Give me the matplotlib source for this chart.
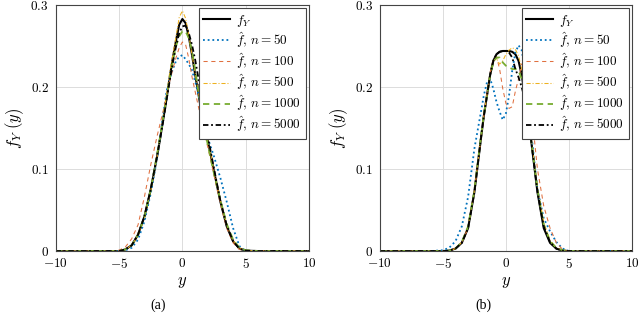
import numpy as np
import matplotlib
matplotlib.use('Agg')
import matplotlib.pyplot as plt
from matplotlib.ticker import FuncFormatter

plt.rcParams['mathtext.fontset'] = 'cm'
plt.rcParams['font.family'] = 'serif'
plt.rcParams['font.serif'] = ['DejaVu Serif']

# common y grid (x axis of the densities)
yy = [-10, -6, -5, -4.5, -4, -3.5, -3, -2.5, -2, -1.75, -1.5, -1.25, -1, -0.75, -0.5, -0.25,
      0, 0.25, 0.5, 0.75, 1, 1.25, 1.5, 1.75, 2, 2.5, 3, 3.5, 4, 4.5, 5, 6, 10]

#%% panel (a)
fY_a = [0, 0, 0, 0.002, 0.007, 0.02, 0.042, 0.075, 0.115, 0.138, 0.162, 0.186, 0.212, 0.236, 0.257, 0.276,
        0.283, 0.278, 0.262, 0.24, 0.216, 0.193, 0.17, 0.152, 0.135, 0.097, 0.06, 0.03, 0.012, 0.003, 0.0005, 0, 0]
n50_a = [0, 0, 0, 0.001, 0.004, 0.014, 0.036, 0.07, 0.113, 0.14, 0.168, 0.195, 0.21, 0.222, 0.232, 0.237,
         0.239, 0.234, 0.228, 0.221, 0.207, 0.192, 0.175, 0.155, 0.138, 0.115, 0.089, 0.06, 0.028, 0.006, 0, 0, 0]
n100_a = [0, 0, 0.001, 0.005, 0.015, 0.032, 0.066, 0.105, 0.14, 0.156, 0.172, 0.19, 0.207, 0.222, 0.236, 0.248,
          0.255, 0.252, 0.235, 0.213, 0.195, 0.177, 0.16, 0.143, 0.127, 0.092, 0.057, 0.028, 0.01, 0.002, 0, 0, 0]
n500_a = [0, 0, 0, 0.002, 0.007, 0.019, 0.04, 0.073, 0.115, 0.14, 0.165, 0.19, 0.218, 0.24, 0.262, 0.285,
          0.293, 0.284, 0.264, 0.24, 0.218, 0.195, 0.172, 0.153, 0.135, 0.098, 0.062, 0.032, 0.013, 0.004, 0.001, 0, 0]
n1000_a = [0, 0, 0, 0.002, 0.007, 0.02, 0.042, 0.075, 0.118, 0.14, 0.163, 0.187, 0.21, 0.232, 0.25, 0.262,
           0.268, 0.268, 0.26, 0.245, 0.222, 0.196, 0.172, 0.15, 0.13, 0.094, 0.062, 0.033, 0.014, 0.004, 0.001, 0, 0]
n5000_a = [0, 0, 0, 0.002, 0.007, 0.02, 0.042, 0.075, 0.116, 0.138, 0.16, 0.184, 0.208, 0.23, 0.25, 0.266,
           0.274, 0.275, 0.266, 0.252, 0.234, 0.212, 0.186, 0.16, 0.14, 0.1, 0.061, 0.031, 0.012, 0.003, 0.0005, 0, 0]

#%% panel (b)
fY_b = [0, 0, 0, 0.0005, 0.003, 0.01, 0.028, 0.072, 0.135, 0.165, 0.19, 0.215, 0.232, 0.24, 0.243, 0.244,
        0.244, 0.244, 0.243, 0.24, 0.232, 0.215, 0.19, 0.165, 0.135, 0.072, 0.028, 0.01, 0.003, 0.0005, 0, 0, 0]
n50_b = [0, 0, 0.001, 0.004, 0.012, 0.03, 0.066, 0.125, 0.168, 0.19, 0.206, 0.21, 0.198, 0.182, 0.17, 0.16,
         0.168, 0.19, 0.22, 0.242, 0.251, 0.245, 0.222, 0.185, 0.145, 0.075, 0.04, 0.024, 0.011, 0.003, 0, 0, 0]
n100_b = [0, 0, 0, 0.0005, 0.003, 0.01, 0.028, 0.072, 0.135, 0.165, 0.192, 0.218, 0.234, 0.237, 0.222, 0.198,
          0.18, 0.174, 0.176, 0.195, 0.21, 0.228, 0.232, 0.215, 0.175, 0.1, 0.055, 0.028, 0.01, 0.002, 0, 0, 0]
n500_b = [0, 0, 0, 0.0005, 0.003, 0.011, 0.03, 0.074, 0.137, 0.166, 0.19, 0.214, 0.232, 0.235, 0.228, 0.232,
          0.24, 0.245, 0.248, 0.246, 0.238, 0.222, 0.198, 0.17, 0.14, 0.078, 0.035, 0.013, 0.004, 0.001, 0, 0, 0]
n1000_b = [0, 0, 0, 0.0005, 0.003, 0.011, 0.03, 0.074, 0.137, 0.166, 0.19, 0.215, 0.23, 0.236, 0.236, 0.23,
           0.226, 0.224, 0.222, 0.222, 0.22, 0.21, 0.19, 0.165, 0.135, 0.075, 0.032, 0.012, 0.004, 0.001, 0, 0, 0]
n5000_b = [0, 0, 0, 0.0005, 0.003, 0.01, 0.028, 0.072, 0.135, 0.165, 0.19, 0.215, 0.232, 0.24, 0.243, 0.244,
           0.244, 0.242, 0.236, 0.222, 0.212, 0.2, 0.185, 0.16, 0.135, 0.073, 0.03, 0.011, 0.003, 0.0005, 0, 0, 0]

labels = [r'$f_Y$', r'$\hat{f},\, n = 50$', r'$\hat{f},\, n = 100$', r'$\hat{f},\, n = 500$',
          r'$\hat{f},\, n = 1000$', r'$\hat{f},\, n = 5000$']

styles = [dict(color='black', lw=1.5, ls='-'),
          dict(color='#0072BD', lw=1.3, ls=(0, (1, 1.6))),
          dict(color='#E07040', lw=0.75, ls=(0, (4, 3.5))),
          dict(color='#EDB120', lw=0.75, ls=(0, (4, 1.8, 1, 1.8))),
          dict(color='#77AC30', lw=1.3, ls=(0, (3.5, 2.5))),
          dict(color='black', lw=1.3, ls=(0, (3, 1.5, 1, 1.5)))]

fig = plt.figure(figsize=(6.4, 3.17), dpi=100)
ax1 = fig.add_axes([0.087, 0.208, 0.396, 0.776])
ax2 = fig.add_axes([0.5935, 0.208, 0.394, 0.776])

fmt = FuncFormatter(lambda v, _: r'$%g$' % v)

for ax, series in [(ax1, [fY_a, n50_a, n100_a, n500_a, n1000_a, n5000_a]),
                   (ax2, [fY_b, n50_b, n100_b, n500_b, n1000_b, n5000_b])]:
    for s, lab, st in zip(series, labels, styles):
        ax.plot(yy, s, label=lab, **st)
    ax.set_xlim(-10, 10)
    ax.set_ylim(0, 0.3)
    ax.set_xticks([-10, -5, 0, 5, 10])
    ax.set_yticks([0, 0.1, 0.2, 0.3])
    ax.xaxis.set_major_formatter(fmt)
    ax.yaxis.set_major_formatter(fmt)
    ax.tick_params(labelsize=9.5, direction='in', length=0)
    ax.tick_params(axis='x', pad=4.5)
    ax.tick_params(axis='y', pad=5)
    ax.grid(color='#dcdcdc', lw=0.7)
    ax.set_axisbelow(True)
    for sp in ax.spines.values():
        sp.set_color('#444444')
        sp.set_linewidth(0.8)
    ax.set_xlabel(r'$y$', fontsize=12, labelpad=1)
    ax.set_ylabel(r'$f_Y\;(y)$', fontsize=12, labelpad=3)
    leg = ax.legend(loc='upper right', fontsize=9.5, borderaxespad=0.25, fancybox=False,
                    edgecolor='#444444', framealpha=1, handlelength=2.0, labelspacing=0.1,
                    borderpad=0.35, handletextpad=0.5)
    leg.get_frame().set_linewidth(0.8)

fig.text(0.247, 0.038, '(a)', ha='center', va='center', fontsize=10, family='Liberation Serif')
fig.text(0.755, 0.038, '(b)', ha='center', va='center', fontsize=10, family='Liberation Serif')

plt.savefig('out.png', dpi=100)
